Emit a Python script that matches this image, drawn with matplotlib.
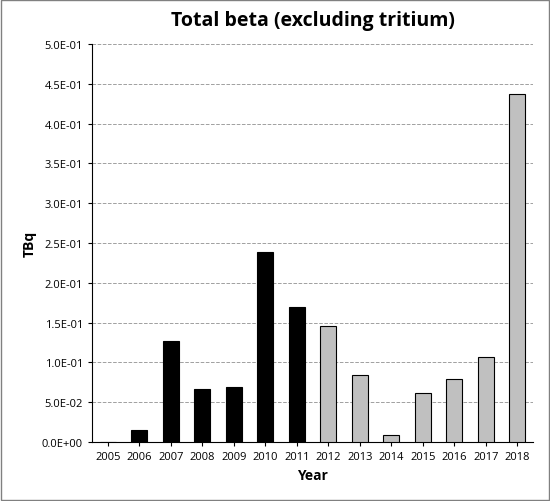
import matplotlib
matplotlib.use("Agg")
import matplotlib.pyplot as plt
from matplotlib.ticker import FuncFormatter

years = [str(y) for y in range(2005, 2019)]
values = [0.0, 0.015, 0.127, 0.067, 0.069, 0.239, 0.170,
          0.146, 0.084, 0.009, 0.062, 0.079, 0.107, 0.437]
colors = ["black"] * 7 + ["#c0c0c0"] * 7

plt.rcParams["font.family"] = ["Open Sans", "DejaVu Sans"]

fig = plt.figure(figsize=(5.5, 5.02), dpi=100)
ax = fig.add_axes([92 / 550, 59 / 502, 441 / 550, 398 / 502])
ax.bar(range(len(years)), values, width=0.5, color=colors, edgecolor="black", linewidth=0.8, zorder=3)
ax.set_xlim(-0.5, len(years) - 0.5)
ax.set_ylim(0, 0.5)
ax.set_yticks([i * 0.05 for i in range(11)])
ax.yaxis.set_major_formatter(FuncFormatter(lambda v, p: f"{v:.1E}".replace("E-0", "E-0").replace("E+00", "E+00")))
ax.set_xticks(range(len(years)))
ax.set_xticklabels(years)
ax.tick_params(labelsize=8, length=3)
ax.grid(axis="y", color="#a0a0a0", linestyle="--", linewidth=0.7, zorder=0)
for s in ("top", "right"):
    ax.spines[s].set_visible(False)
ax.set_xlabel("Year", fontsize=10, fontweight="bold")
ax.set_ylabel("TBq", fontsize=10, fontweight="bold")
ax.set_title("Total beta (excluding tritium)", fontsize=14, fontweight="bold", pad=14)
fig.patches.append(plt.Rectangle((0.002, 0.002), 0.996, 0.996, transform=fig.transFigure,
                                 fill=False, edgecolor="#808080", linewidth=1))
fig.savefig("out.png", dpi=100)
